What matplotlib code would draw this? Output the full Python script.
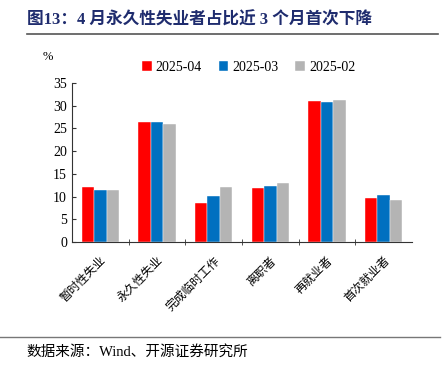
from matplotlib import pyplot as plt
from matplotlib.lines import Line2D
import numpy as np

plt.rcParams['font.family'] = ['Liberation Serif', 'Noto Sans CJK SC']

categories = ['暂时性失业', '永久性失业', '完成临时工作', '离职者', '再就业者', '首次就业者']
series_names = ['2025-04', '2025-03', '2025-02']
apr = [12.0, 26.3, 8.5, 11.8, 31.0, 9.7]
mar = [11.4, 26.4, 10.2, 12.3, 30.8, 10.4]
feb = [11.5, 25.9, 12.0, 12.9, 31.2, 9.3]
colors = ['#FF0000', '#0070C0', '#B4B4B4']

fig = plt.figure(figsize=(4.44, 3.73), dpi=100)
ax = fig.add_axes([0.162, 0.351, 0.766, 0.427])

x = np.arange(len(categories))
w = 0.22
for i, (vals, name) in enumerate(zip([apr, mar, feb], series_names)):
    ax.bar(x + (i - 1) * w, vals, width=w, color=colors[i], label=name,
           edgecolor='white', linewidth=0.3)

ax.set_xlim(-0.5, len(categories) - 0.5)
ax.set_ylim(0, 35)
ax.set_yticks(range(0, 36, 5))
ax.tick_params(axis='y', direction='in', length=3, labelsize=10, colors='#333333')
ax.tick_params(axis='y', labelcolor='black')
ax.set_xticks(x)
ax.set_xticklabels(categories, rotation=45, ha='right', rotation_mode='anchor', fontsize=8.5)
ax.tick_params(axis='x', length=0, pad=9)
ax.set_xticks(np.arange(0.5, len(categories) - 0.5, 1), minor=True)
ax.tick_params(axis='x', which='minor', direction='inout', length=5, color='#333333')
for s in ['top', 'right']:
    ax.spines[s].set_visible(False)
for s in ['left', 'bottom']:
    ax.spines[s].set_color('#333333')
    ax.spines[s].set_linewidth(0.8)

ax.legend(loc='lower center', bbox_to_anchor=(0.52, 1.02), ncol=3, frameon=False,
          fontsize=10, handlelength=0.7, handleheight=0.7, handletextpad=0.3,
          columnspacing=1.2, borderaxespad=0)

fig.text(0.095, 0.84, '%', fontsize=9)

fig.text(0.06, 0.945, '图13：4 月永久性失业者占比近 3 个月首次下降', fontsize=12,
         fontweight='bold', color='#1F2C6E', va='center')
fig.add_artist(Line2D([0.061, 0.987], [0.909, 0.909], color='#555555', lw=1.2))
fig.add_artist(Line2D([0.0, 0.99], [0.097, 0.097], color='#777777', lw=1.0))
fig.text(0.06, 0.056, '数据来源：Wind、开源证券研究所', fontsize=10.5, va='center')

fig.savefig('out.png', dpi=100)
